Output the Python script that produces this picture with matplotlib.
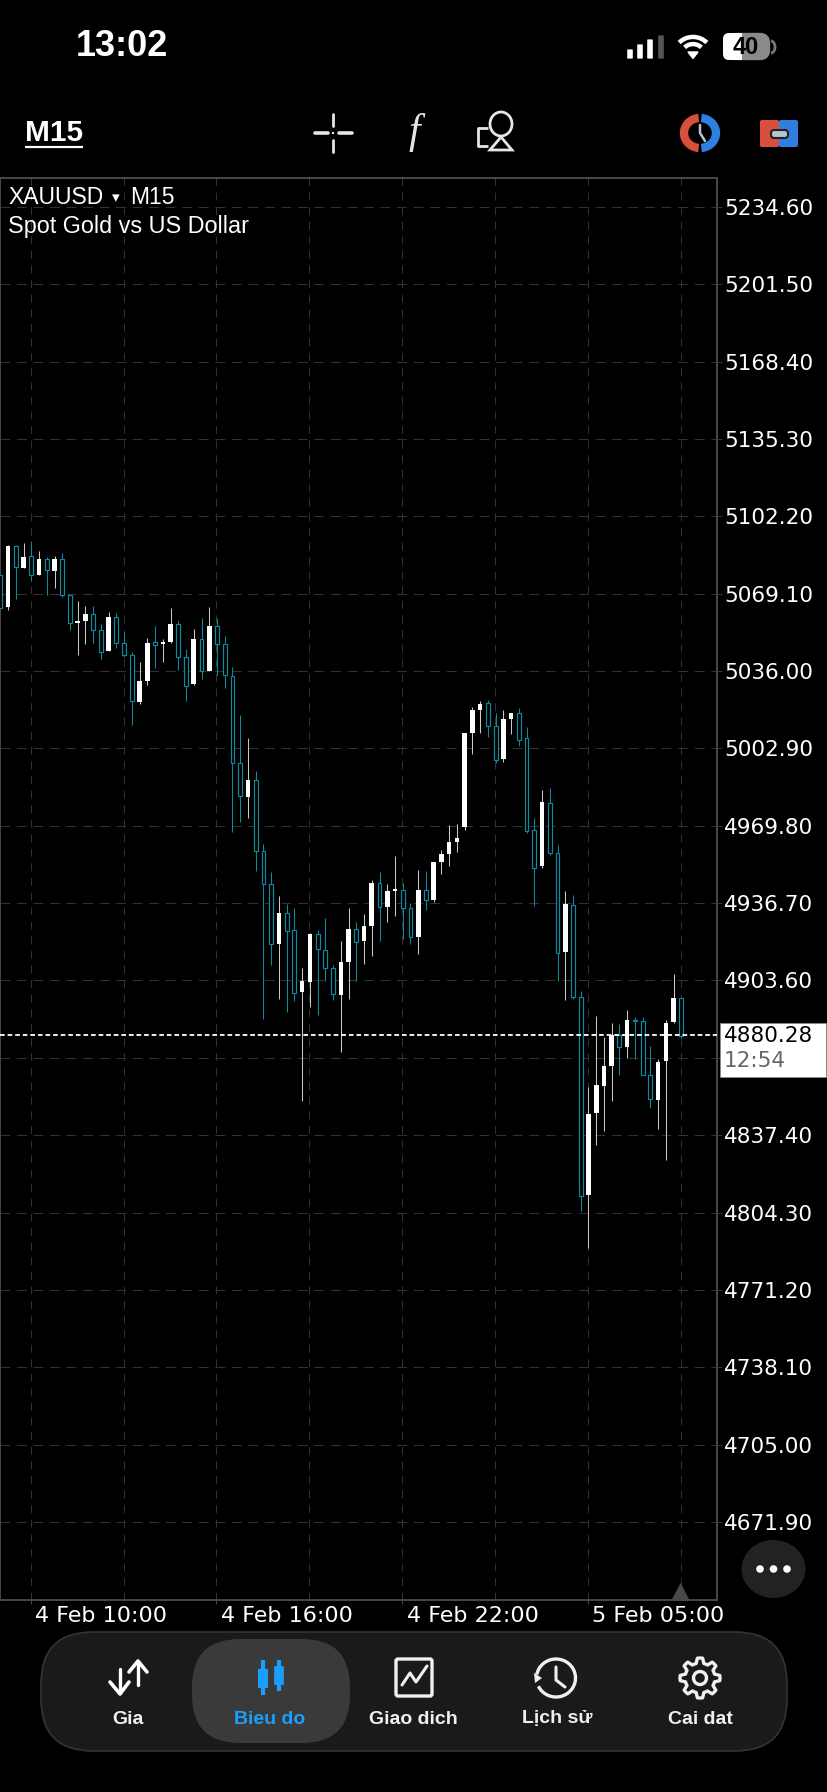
import numpy as np
import matplotlib
matplotlib.use("Agg")
import matplotlib.pyplot as plt
from matplotlib.patches import FancyBboxPatch, Rectangle, Circle, Ellipse, Arc, Polygon
from matplotlib.transforms import ScaledTranslation

# candles, oldest first
opens = [5077.1, 5063.4, 5089.5, 5080.3, 5085.1, 5077.0, 5084.1, 5078.8, 5084.0, 5068.4,
         5056.6, 5057.6, 5060.3, 5053.7, 5044.7, 5059.0, 5047.9, 5043.0, 5022.9, 5031.9,
         5048.5, 5047.5, 5048.5, 5056.2, 5042.2, 5030.3, 5049.9, 5035.9, 5055.3, 5047.5,
         5033.8, 4996.5, 4982.3, 4989.3, 4958.9, 4944.9, 4919.1, 4932.3, 4925.1, 4898.7,
         4903.1, 4923.4, 4916.8, 4908.8, 4897.5, 4911.4, 4925.5, 4920.5, 4926.8, 4945.2,
         4935.2, 4941.8, 4942.5, 4934.5, 4922.4, 4942.5, 4938.1, 4954.3, 4957.7, 4963.0,
         4969.1, 5009.7, 5019.2, 5022.2, 5012.4, 4998.4, 5015.4, 5017.9, 5007.5, 4967.9,
         4952.6, 4979.7, 4958.2, 4915.8, 4935.8, 4896.4, 4811.8, 4846.8, 4858.6, 4867.2,
         4880.4, 4875.0, 4886.8, 4886.4, 4863.2, 4852.6, 4869.3, 4885.7, 4896.0]
highs = [5077.1, 5090.0, 5090.0, 5091.0, 5091.7, 5087.4, 5084.7, 5085.3, 5086.5, 5068.7,
         5066.0, 5063.9, 5064.0, 5056.2, 5061.4, 5060.9, 5052.9, 5044.2, 5039.8, 5050.2,
         5055.2, 5049.9, 5063.2, 5057.6, 5045.3, 5054.0, 5058.7, 5063.3, 5058.6, 5051.0,
         5037.8, 5017.2, 5007.2, 4993.3, 4961.9, 4949.9, 4939.8, 4936.2, 4934.5, 4909.1,
         4923.8, 4925.4, 4930.4, 4910.2, 4920.7, 4934.6, 4928.5, 4931.9, 4946.5, 4950.0,
         4944.8, 4957.0, 4945.2, 4936.8, 4950.7, 4950.5, 4954.3, 4959.3, 4970.0, 4970.4,
         5009.5, 5020.8, 5023.4, 5023.6, 5018.1, 5019.2, 5017.9, 5020.1, 5012.1, 4973.1,
         4985.0, 4986.1, 4961.4, 4941.8, 4940.2, 4899.0, 4858.2, 4888.4, 4879.3, 4885.4,
         4885.0, 4890.8, 4887.8, 4888.1, 4875.6, 4870.2, 4886.7, 4906.4, 4896.3]
lows = [5063.2, 5062.2, 5066.7, 5080.3, 5074.7, 5077.0, 5068.7, 5071.4, 5067.9, 5053.4,
        5042.9, 5047.5, 5048.0, 5041.3, 5044.7, 5045.9, 5042.2, 5012.9, 5021.8, 5030.2,
        5037.2, 5039.9, 5047.9, 5036.3, 5023.2, 5030.2, 5032.8, 5035.9, 5034.3, 5028.6,
        4967.3, 4971.3, 4973.0, 4950.3, 4887.1, 4910.2, 4895.5, 4890.1, 4895.0, 4852.2,
        4892.1, 4888.7, 4903.5, 4895.3, 4873.0, 4895.8, 4903.5, 4910.5, 4914.1, 4920.7,
        4928.5, 4931.2, 4921.5, 4919.1, 4914.9, 4933.8, 4937.2, 4949.2, 4952.5, 4958.6,
        4968.0, 5000.5, 5009.7, 5007.7, 4996.5, 4997.2, 5009.1, 5004.0, 4966.9, 4935.6,
        4951.9, 4957.4, 4903.5, 4895.3, 4895.7, 4805.1, 4789.3, 4833.2, 4839.2, 4852.2,
        4863.3, 4870.6, 4870.2, 4863.2, 4849.0, 4839.9, 4826.8, 4885.3, 4878.9]
closes = [5063.2, 5089.5, 5080.4, 5085.0, 5077.1, 5084.1, 5079.1, 5084.1, 5068.7, 5056.6,
          5057.6, 5060.4, 5053.7, 5044.3, 5059.0, 5048.0, 5042.7, 5023.1, 5031.6, 5048.2,
          5047.3, 5048.5, 5056.2, 5042.2, 5029.8, 5049.9, 5036.2, 5055.3, 5047.5, 5034.2,
          4996.8, 4982.7, 4989.3, 4958.9, 4944.8, 4919.1, 4932.3, 4924.9, 4898.4, 4903.5,
          4923.4, 4916.9, 4908.8, 4898.0, 4911.4, 4925.6, 4920.2, 4926.8, 4945.3, 4935.2,
          4941.8, 4942.8, 4934.5, 4922.4, 4942.5, 4938.2, 4954.3, 4957.6, 4962.9, 4964.6,
          5009.5, 5019.5, 5022.1, 5012.5, 4998.1, 5015.4, 5017.9, 5006.7, 4967.7, 4951.7,
          4979.8, 4958.3, 4915.2, 4936.3, 4896.7, 4811.5, 4846.5, 4858.9, 4867.2, 4880.1,
          4875.0, 4886.6, 4886.3, 4863.2, 4852.8, 4868.6, 4885.3, 4896.1, 4880.0]

price_ticks = [5234.60, 5201.50, 5168.40, 5135.30, 5102.20, 5069.10, 5036.00, 5002.90, 4969.80,
               4936.70, 4903.60, 4870.50, 4837.40, 4804.30, 4771.20, 4738.10, 4705.00, 4671.90]
price_labels = ["5234.60", "5201.50", "5168.40", "5135.30", "5102.20", "5069.10", "5036.00",
                "5002.90", "4969.80", "4936.70", "4903.60", "", "4837.40", "4804.30", "4771.20",
                "4738.10", "4705.00", "4671.90"]
time_idx = [4, 28, 52, 76]
time_labels = ["4 Feb 10:00", "4 Feb 16:00", "4 Feb 22:00", "5 Feb 05:00"]
minor_idx = [16, 40, 64, 88]
last_price = 4880.28

BG = "#000000"
TEAL = "#0b8aa3"
GRID = "#343434"
FRAME = "#484848"

fig = plt.figure(figsize=(8.28, 17.92), dpi=100, facecolor=BG)
ax = fig.add_axes([0, 1 - 1600 / 1792, 717 / 828, (1600 - 178) / 1792], facecolor=BG)

idx = np.arange(len(opens))
opens = np.array(opens)
closes = np.array(closes)
up = closes >= opens
wick_cols = ["#c8c8c8" if u else TEAL for u in up]
ax.vlines(idx, lows, highs, colors=wick_cols, lw=0.75, zorder=2)
ax.bar(idx[up], (closes - opens)[up], bottom=opens[up], width=0.6, color="white", lw=0, zorder=3)
ax.bar(idx[~up], (opens - closes)[~up], bottom=closes[~up], width=0.5, facecolor=BG,
       edgecolor=TEAL, lw=0.85, zorder=3)
ax.axhline(last_price, color="white", lw=1.3, ls=(0, (2.6, 1.6)), zorder=4)

ax.set_xlim(-0.045, 92.61)
ax.set_ylim(4638.5, 5247.0)

ax.yaxis.tick_right()
ax.set_yticks(price_ticks)
ax.set_yticklabels(price_labels, color="white", fontsize=15.5, family="DejaVu Sans")
ax.tick_params(axis="y", length=3.5, width=0.7, color=GRID, pad=1.5)
ax.set_xticks(np.array(time_idx) - 0.08)
ax.set_xticks(np.array(minor_idx) - 0.08, minor=True)
ax.set_xticklabels(time_labels, color="white", fontsize=16, family="DejaVu Sans", ha="left")
ax.tick_params(axis="x", which="major", length=3, width=0.7, color=FRAME, pad=1)
ax.tick_params(axis="x", which="minor", length=0)
for t in ax.get_xticklabels():
    t.set_transform(t.get_transform() + ScaledTranslation(4.5 / 100, 0, fig.dpi_scale_trans))
ax.grid(True, which="both", axis="x", color=GRID, lw=0.7, ls=(0, (8, 7)), zorder=1)
ax.grid(True, axis="y", color=GRID, lw=0.7, ls=(0, (10, 7)), zorder=1)
ax.set_axisbelow(True)
for s in ax.spines.values():
    s.set_color(FRAME)
    s.set_linewidth(1.4)

# everything around the chart, in screen pixels
ui = fig.add_axes([0, 0, 1, 1], facecolor="none", zorder=5)
ui.set_xlim(0, 828)
ui.set_ylim(1792, 0)
ui.axis("off")

SANS = "Liberation Sans"

def line(xs, ys, col="white", lw=2.0, cap="round", z=6):
    ui.plot(xs, ys, color=col, lw=lw, solid_capstyle=cap, solid_joinstyle="round", zorder=z)

# chart captions
ui.text(8, 197, "XAUUSD", color="white", fontsize=16.5, family=SANS, va="center")
ui.text(116, 198, "▾", color="white", fontsize=11, family="DejaVu Sans", va="center", ha="center")
ui.text(130, 197, "M15", color="white", fontsize=16.5, family=SANS, va="center")
ui.text(8, 226.5, "Spot Gold vs US Dollar", color="white", fontsize=16.8, family=SANS, va="center")

# last price box
ui.add_patch(Rectangle((720, 1023), 106, 54, fc="white", ec="#888888", lw=0.7, zorder=6))
ui.text(724, 1036, "4880.28", color="black", fontsize=15.5, family="DejaVu Sans", va="center", zorder=7)
ui.text(724, 1061, "12:54", color="#666666", fontsize=15.5, family="DejaVu Sans", va="center", zorder=7)

# status bar
ui.text(121.5, 47, "13:02", color="white", fontsize=26, family=SANS, weight="bold", ha="center", va="center")
for x, h, c in zip([630, 640, 650, 661], [8, 13, 18, 22], ["white", "white", "white", "#555555"]):
    ui.add_patch(FancyBboxPatch((x - 2.2, 58 - h), 4.4, h, boxstyle="round,pad=0.6", fc=c, ec="none"))
for d, lw in zip([38, 23], [3.2, 3.2]):
    ui.add_patch(Arc((693, 55), d, d * 0.95, theta1=222, theta2=318, color="white", lw=lw))
ui.add_patch(Polygon([[688, 52], [698, 52], [693, 58.5]], fc="white", ec="white", lw=1))
ui.add_patch(FancyBboxPatch((730, 37), 36, 19, boxstyle="round,pad=0,rounding_size=6", fc="#8a8a8a", ec="#8a8a8a", lw=6))
ui.add_patch(FancyBboxPatch((723, 33), 19, 27, boxstyle="round,pad=0,rounding_size=6", fc="white", ec="none"))
ui.add_patch(Rectangle((735, 33), 7, 27, fc="white", ec="none"))
ui.add_patch(Arc((771, 47), 8, 12, theta1=-90, theta2=90, color="#777777", lw=2))
ui.text(746, 47.5, "40", color="black", fontsize=17, family=SANS, weight="bold", ha="center", va="center")

# toolbar
ui.text(25, 133, "M15", color="white", fontsize=21.5, family=SANS, weight="bold", va="center")
line([25, 83], [147, 147], lw=1.6, cap="butt")
line([315, 328], [133, 133], "#e6e6e6", 2.6)
line([339, 352], [133, 133], "#e6e6e6", 2.6)
line([333, 333], [114, 126], "#e6e6e6", 2.0)
line([333, 333], [140, 152], "#e6e6e6", 2.0)
ui.add_patch(Circle((333, 133), 1.2, fc="#e6e6e6", ec="none"))
ui.text(414, 133, "f", color="#e6e6e6", fontsize=30, family="Liberation Serif", style="italic", ha="center", va="center")
ui.add_patch(Ellipse((501, 124), 22, 24, fc="none", ec="#e6e6e6", lw=2))
ui.add_patch(Polygon([[490, 150], [512, 150], [501, 137]], fc="black", ec="#e6e6e6", lw=2, zorder=6))
line([488, 478, 478, 488], [128, 128, 146, 146], "#e6e6e6", 2, "butt")
ui.add_patch(Arc((700, 133), 32, 30, theta1=95, theta2=265, color="#d94f3d", lw=6))
ui.add_patch(Arc((700, 133), 32, 30, theta1=-85, theta2=85, color="#2f7fe0", lw=6))
line([700, 700, 705], [125, 133, 141], "#b8c4cc", 1.8)
ui.add_patch(FancyBboxPatch((760, 120), 19, 27, boxstyle="round,pad=0,rounding_size=2", fc="#d94f3d", ec="none"))
ui.add_patch(FancyBboxPatch((779, 120), 19, 27, boxstyle="round,pad=0,rounding_size=2", fc="#2f7fe0", ec="none"))
ui.add_patch(FancyBboxPatch((771, 130), 17, 8, boxstyle="round,pad=0,rounding_size=3", fc="#b8c4cc", ec="#222222", lw=1.5))

# marker at the bottom of the chart and the round menu button
ui.add_patch(Polygon([[672, 1599], [689, 1599], [680.6, 1583]], fc="#484848", ec="none"))
ui.add_patch(Ellipse((773.5, 1569), 64, 58, fc="#222222", ec="none"))
for x in [760, 773.5, 787]:
    ui.add_patch(Circle((x, 1569), 3.8, fc="white", ec="none"))

# tab bar
ui.add_patch(FancyBboxPatch((41, 1632), 746, 119, boxstyle="round,pad=0,rounding_size=52", fc="#1a1a1a", ec="#343434", lw=1.2))
ui.add_patch(FancyBboxPatch((192, 1639), 158, 104, boxstyle="round,pad=0,rounding_size=48", fc="#3a3a3a", ec="none"))
tab_names = ["Gia", "Bieu do", "Giao dich", "Lịch sử", "Cai dat"]
tab_x = [128, 270, 413, 557, 700]
for name, x in zip(tab_names, tab_x):
    on = name == "Bieu do"
    ui.text(x, 1719, name, color="#1a9fff" if on else "#f0f0f0", fontsize=14, family=SANS,
            weight="bold", ha="center", va="center")

# Gia arrows
line([120, 120], [1669, 1693], lw=2.4)
line([110, 120, 129], [1682, 1694, 1682], lw=2.6)
line([138, 138], [1662, 1685], lw=2.4)
line([129, 138, 147], [1672, 1661, 1672], lw=2.6)
# candles icon
BLUE = "#1a9fff"
line([263, 263], [1660, 1695], BLUE, 3, "butt")
ui.add_patch(Rectangle((258, 1669), 10, 19, fc=BLUE, ec="none"))
line([279, 279], [1660, 1691], BLUE, 3, "butt")
ui.add_patch(Rectangle((275, 1667), 8, 17, fc=BLUE, ec=BLUE, lw=1.2))
ui.add_patch(Rectangle((277.5, 1670), 3, 11, fc="#3a3a3a", ec="none"))
# trade icon
ui.add_patch(FancyBboxPatch((396, 1659), 36, 37, boxstyle="round,pad=0,rounding_size=2", fc="none", ec="#f0f0f0", lw=2.4))
line([402, 410, 416, 427], [1685, 1673, 1682, 1666], "#f0f0f0", 2.2)
# history icon
ui.add_patch(Arc((556, 1678), 39, 38, theta1=-170, theta2=155, color="#f0f0f0", lw=2.4))
line([556, 556, 565], [1667, 1680, 1687], "#f0f0f0", 2.2)
ui.add_patch(Polygon([[534, 1673], [542, 1678], [535, 1683]], fc="#f0f0f0", ec="none"))
# settings gear
ang = np.linspace(0, 2 * np.pi, 48, endpoint=False)
rad = np.where((ang / (2 * np.pi) * 8 + 0.25) % 1 < 0.5, 20, 15)
ui.add_patch(Polygon(np.c_[700 + rad * np.sin(ang), 1678 + rad * np.cos(ang)], fc="none", ec="#f0f0f0", lw=2.4, joinstyle="round"))
ui.add_patch(Circle((700, 1678), 6.5, fc="none", ec="#f0f0f0", lw=2.4))

fig.savefig("out.png", dpi=100, facecolor=BG)
